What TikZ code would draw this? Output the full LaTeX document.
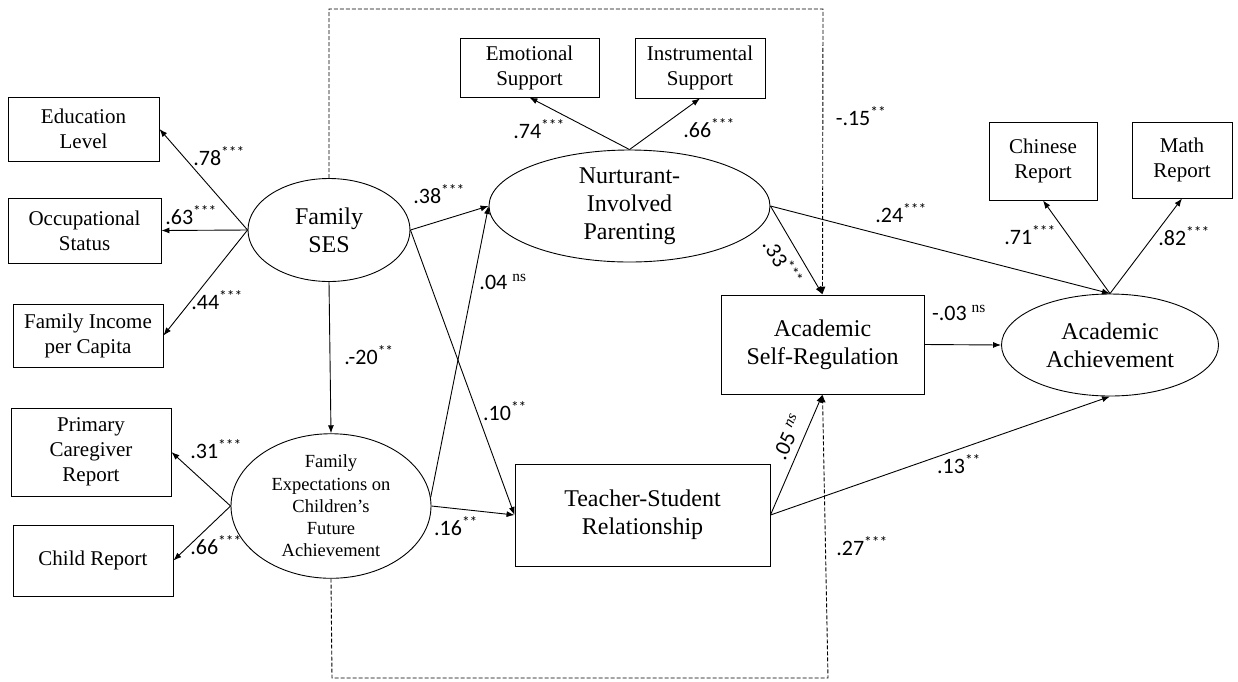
\documentclass[tikz,border=0pt]{standalone}
\usepackage{fontspec}
\setmainfont{Liberation Serif}
\newfontfamily\lab{Carlito}
\usetikzlibrary{shapes.geometric,arrows.meta}
\tikzset{
  ind/.style={rectangle, draw, line width=0.9pt, inner sep=0pt, align=center,
    font=\fontsize{21}{25}\selectfont},
  obs/.style={rectangle, draw, line width=0.9pt, inner sep=0pt, align=center,
    font=\fontsize{24}{28}\selectfont},
  lat/.style={ellipse, draw, line width=0.9pt, inner sep=0pt, align=center,
    font=\fontsize{24}{28}\selectfont},
  path/.style={line width=0.9pt, -{Latex[length=8pt,width=6pt]}},
  cov/.style={line width=0.9pt, dash pattern=on 4pt off 2pt, -{Latex[length=8pt,width=6pt]}},
  lbl/.style={inner sep=0pt, anchor=base, font=\lab\fontsize{22}{24}\selectfont},
  rlbl/.style={inner sep=0pt, font=\lab\fontsize{22}{24}\selectfont},
}
\newcommand{\st}[1]{\textsuperscript{#1}}
\newcommand{\ns}{\textsuperscript{\rmfamily ns}}
\newcommand{\nsi}{\textsuperscript{\rmfamily\itshape ns}}
\begin{document}
\begin{tikzpicture}[x=1pt,y=-1pt]
\useasboundingbox (0,0) rectangle (1238,681);

% indicators of family SES
\node[ind, minimum width=151pt, minimum height=64pt] (edu) at (83.5,129) {Education\\Level};
\node[ind, minimum width=153pt, minimum height=65pt] (occ) at (84.5,230.5) {Occupational\\Status};
\node[ind, minimum width=150pt, minimum height=63pt] (inc) at (88,335.5) {Family Income\\per Capita};

% indicators of family expectations
\node[ind, minimum width=160pt, minimum height=88pt] (pcr) at (91,452) {Primary\\Caregiver\\Report};
\node[ind, minimum width=160pt, minimum height=71pt] (chr) at (93,560.5) {Child Report};

% indicators of parenting
\node[ind, minimum width=139pt, minimum height=59pt] (emo) at (529.5,67.5) {Emotional\\Support};
\node[ind, minimum width=130pt, minimum height=60pt] (ins) at (700,68) {Instrumental\\Support};

% indicators of achievement
\node[ind, minimum width=108pt, minimum height=78pt] (chi) at (1043,161) {Chinese\\Report};
\node[ind, minimum width=100pt, minimum height=76pt] (mat) at (1182,160) {Math\\Report};

% latent variables
\node[lat, minimum width=162pt, minimum height=103pt] (ses) at (329,230) {Family\\SES};
\node[lat, minimum width=200pt, minimum height=126pt,
  font=\fontsize{18.5}{22.3}\selectfont] (fe) at (331,506)
  {Family\\Expectations on\\Children’s\\Future\\Achievement};
\node[lat, minimum width=281pt, minimum height=112pt] (nip) at (629.5,206) {Nurturant-\\Involved\\Parenting};
\node[lat, minimum width=217pt, minimum height=102pt] (ach) at (1110,345) {Academic\\Achievement};

% observed mediators
\node[obs, minimum width=255pt, minimum height=102pt] (ts) at (642.5,515) {Teacher-Student\\Relationship};
\node[obs, minimum width=203pt, minimum height=99pt] (asr) at (822.5,344.5) {Academic\\Self-Regulation};

% measurement paths
\draw[path] (ses.west) -- (edu.east);
\draw[path] (ses.west) -- (occ.east);
\draw[path] (ses.west) -- (inc.east);
\draw[path] (fe.west) -- (pcr.east);
\draw[path] (fe.west) -- (chr.east);
\draw[path] (nip.north) -- (emo.south);
\draw[path] (nip.north) -- (ins.south);
\draw[path] (ach.north) -- (chi.south);
\draw[path] (ach.north) -- (mat.south);

% structural paths
\draw[path] (ses.south) -- (fe.north);
\draw[path] (ses.east) -- (nip.west);
\draw[path] (ses.east) -- (ts.west);
\draw[path] (fe.5) -- (nip.west);
\draw[path] (fe.east) -- (ts.west);
\draw[path] (nip.east) -- (asr.north);
\draw[path] (nip.east) -- (ach.north);
\draw[path] (asr.east) -- (ach.west);
\draw[path] (ts.east) -- (asr.south);
\draw[path] (ts.east) -- (ach.south);

% direct paths drawn as dashed detours
\coordinate (tl) at (329,9);
\coordinate (tr) at (823,9);
\coordinate (bl) at (332,678);
\coordinate (br) at (828,678);
\draw[cov] (ses.north) -- (tl) -- (tr) -- (asr.north);
\draw[cov] (fe.south) -- (bl) -- (br) -- (asr.south);

% coefficients
\node[lbl] (l78) at (219,165) {.78\st{***}};
\node[lbl] (l63) at (191,224) {.63\st{***}};
\node[lbl] (l44) at (217,309) {.44\st{***}};
\node[lbl] (l31) at (216,458) {.31\st{***}};
\node[lbl] (l66a) at (216,554) {.66\st{***}};
\node[lbl] (l74) at (539,138) {.74\st{***}};
\node[lbl] (l66b) at (709,137) {.66\st{***}};
\node[lbl] (l71) at (1030,244) {.71\st{***}};
\node[lbl] (l82) at (1184,245) {.82\st{***}};
\node[lbl] (l15) at (861,125) {-.15\st{**}};
\node[lbl] (l27) at (862,555) {.27\st{***}};
\node[lbl] (l38) at (439,203) {.38\st{***}};
\node[lbl] (l20) at (369,364) {.-20\st{**}};
\node[lbl] (l10) at (505,420) {.10\st{**}};
\node[lbl] (l04) at (503,289) {.04 \ns};
\node[lbl] (l16) at (456,535) {.16\st{**}};
\node[lbl] (l24) at (901,222) {.24\st{***}};
\node[lbl] (l03) at (959,320) {-.03 \ns};
\node[lbl] (l13) at (959,473) {.13\st{**}};
\node[rlbl, rotate=-59] (l33) at (783,262) {.33\st{***}};
\node[rlbl, rotate=66] (l05) at (788,437) {.05 \nsi};
\end{tikzpicture}
\end{document}
